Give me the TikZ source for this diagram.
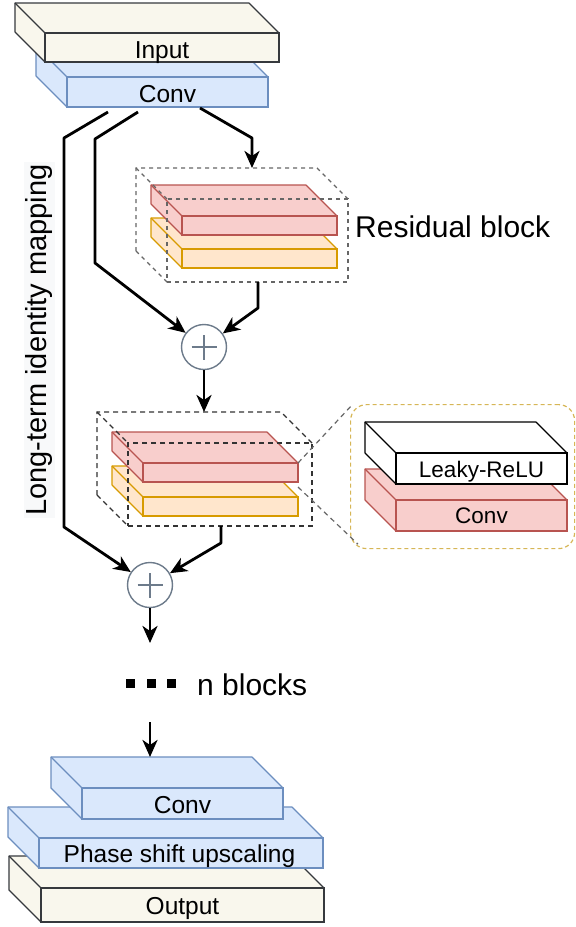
\documentclass[tikz,border=0pt]{standalone}
\usepackage{fontspec}
\setmainfont{Liberation Sans}
\usetikzlibrary{arrows.meta,calc}

\definecolor{creamfill}{HTML}{F9F7ED}
\definecolor{creamdraw}{HTML}{36393D}
\definecolor{bluefill}{HTML}{DAE8FC}
\definecolor{bluedraw}{HTML}{6C8EBF}
\definecolor{redfill}{HTML}{F8CECC}
\definecolor{reddraw}{HTML}{B85450}
\definecolor{orangefill}{HTML}{FFE6CC}
\definecolor{orangedraw}{HTML}{D79B00}
\definecolor{golddraw}{HTML}{D6B656}
\definecolor{sumdraw}{HTML}{6D7B8B}
\definecolor{frameAdraw}{HTML}{666666}
\definecolor{frameBdraw}{HTML}{333333}
\definecolor{labelbg}{HTML}{F8F9FA}

\newcommand\fsz[1]{\fontsize{#1}{#1}\selectfont}

% 3D slab: style, name, front top-left x, y, width, height, depth
\newcommand\slab[7]{%
  \filldraw[#1, line join=round] (#3-#7,#4-#7) -- ++(#5,0) -- ++(#7,#7) -- ++(0,#6)
     -- ++(-#5,0) -- ++(-#7,-#7) -- cycle;
  \node[#1, draw, rectangle, minimum width=#5pt, minimum height=#6pt, inner sep=0pt,
        outer sep=0pt, anchor=north west] (#2) at (#3,#4) {};
  \draw[#1, line join=round] (#2.north west) -- ++(-#7,-#7);
}

% wire-frame box: style, name, front top-left x, y, width, height, depth
\newcommand\wirebox[7]{%
  \node[#1, rectangle, minimum width=#5pt, minimum height=#6pt, inner sep=0pt,
        outer sep=0pt, anchor=north west] (#2) at (#3,#4) {};
  \draw[#1] ($(#2.south west)+(-#7,-#7)$) -- ($(#2.north west)+(-#7,-#7)$)
     -- ($(#2.north east)+(-#7,-#7)$) -- (#2.north east);
  \draw[#1] ($(#2.north west)+(-#7,-#7)$) -- (#2.north west);
  \draw[#1] ($(#2.south west)+(-#7,-#7)$) -- (#2.south west);
}

\begin{document}
\begin{tikzpicture}[x=1pt,y=-1pt,
  slabcream/.style={fill=creamfill, draw=creamdraw, line width=1.2pt},
  slabblue/.style={fill=bluefill, draw=bluedraw, line width=1.2pt},
  slabred/.style={fill=redfill, draw=reddraw, line width=1.2pt},
  slaborange/.style={fill=orangefill, draw=orangedraw, line width=1.2pt},
  slabwhite/.style={fill=white, draw=black, line width=1.2pt},
  frameA/.style={draw=frameAdraw, line width=1.4pt, dash pattern=on 4pt off 4pt},
  frameB/.style={draw=frameBdraw, line width=1.4pt, dash pattern=on 5pt off 4pt},
  zoomline/.style={draw=frameAdraw, line width=1.2pt, dash pattern=on 5pt off 4pt},
  lbl/.style={font=\fsz{24.5}, inner sep=0pt, anchor=base},
  lblsmall/.style={font=\fsz{22.5}, inner sep=0pt, anchor=base},
  bigtxt/.style={font=\fsz{30}, inner sep=0pt, anchor=base west},
  conn/.style={line width=2.8pt, line join=round,
    -{Stealth[length=17pt,width=15pt,inset=5pt]}},
  sumnode/.style={circle, draw=sumdraw, line width=1.4pt, fill=white,
    minimum size=45pt, inner sep=0pt,
    path picture={\draw[sumdraw, line width=1.4pt]
      ([xshift=-12.5pt]path picture bounding box.center) -- ([xshift=12.5pt]path picture bounding box.center)
      ([yshift=-12.5pt]path picture bounding box.center) -- ([yshift=12.5pt]path picture bounding box.center);}},
  dot/.style={fill=black, minimum size=9pt, inner sep=0pt}
]
\useasboundingbox (0,0) rectangle (576,927);

% input and first convolution
\slab{slabblue}{conv1}{67}{77}{201}{30}{31}
\slab{slabcream}{input}{45}{33}{234}{29}{30}
\node[lbl] (inputtxt) at ($(input.south)+(0,-4)$) {Input};
\node[lbl] (conv1txt) at ($(conv1.south)+(0,-5)$) {Conv};

% long skip label
\node[rotate=90, fill=labelbg, font=\fsz{29}, inner sep=2pt] (ltm) at (39.5,340)
  {Long-term identity mapping};

% first residual block
\slab{slaborange}{orange1}{182}{249}{155}{19}{31}
\slab{slabred}{red1}{182}{216}{155}{19}{31}
\wirebox{frameA}{frame1}{167}{199}{181}{83}{31}
\node[bigtxt] (rbtxt) at (355,237) {Residual block};

% second residual block
\slab{slaborange}{orange2}{143}{497}{155}{19}{31}
\slab{slabred}{red2}{143}{463}{155}{19}{31}
\wirebox{frameB}{frame2}{128}{443}{184}{83}{31}

% detail of a residual block
\node[draw=golddraw, line width=1.2pt, dash pattern=on 4pt off 3pt, rounded corners=16pt,
      minimum width=224pt, minimum height=144pt, inner sep=0pt, anchor=north west]
      (zoombox) at (350,404) {};
\slab{slabred}{convz}{396}{500}{171}{31}{31}
\slab{slabwhite}{leaky}{396}{453}{171}{31}{31}
\node[lblsmall] (leakytxt) at ($(leaky.south)+(0,-7)$) {Leaky-ReLU};
\node[lblsmall] (convztxt) at ($(convz.south)+(0,-8)$) {Conv};
\coordinate (zl1s) at (red2.north east);
\coordinate (zl2s) at ($(red2.south east)+(0,5)$);
\coordinate (zl1e) at ($(zoombox.north west)+(2,1)$);
\coordinate (zl2e) at ($(zoombox.south west)+(8,-5)$);
\draw[zoomline] (zl1s) -- (zl1e);
\draw[zoomline] (zl2s) -- (zl2e);

% additions
\node[sumnode] (sum1) at (204,347) {};
\node[sumnode] (sum2) at (150,585) {};

% repeated blocks
\node[dot] (dot1) at (130,683.5) {};
\node[dot] (dot2) at (151,683.5) {};
\node[dot] (dot3) at (171.5,683.5) {};
\node[bigtxt] (nbtxt) at (197,695) {n blocks};
\coordinate (nbtop) at (150,643);
\coordinate (nbbot) at (150,722);

% reconstruction and output
\slab{slabcream}{output}{41}{888}{283}{34}{32}
\slab{slabblue}{phase}{39}{838}{284}{30}{31}
\slab{slabblue}{conv2}{82}{788}{201}{31}{31}
\node[lbl] (conv2txt) at ($(conv2.south)+(0,-6)$) {Conv};
\node[lbl] (phasetxt) at ($(phase.south)+(-1.5,-6)$) {Phase shift upscaling};
\node[lbl] (outputtxt) at ($(output.south)+(0,-8)$) {Output};

% connectors
\coordinate (f1in) at ($(frame1.north west)+(85,-31)$);
\coordinate (f2in) at ($(frame2.north west)+(76,-31)$);
\coordinate (c2in) at ($(conv2.north west)+(68,-31)$);
\draw[conn] ($(conv1.south west)+(41,5)$) -- (64,138) -- (64,527) -- (sum2);
\draw[conn] ($(conv1.south west)+(71,5)$) -- (95,139) -- (95,263) -- (sum1);
\draw[conn] ($(conv1.south west)+(133,1)$) -- (252,138) -- (f1in);
\draw[conn] ($(frame1.south west)+(91,0)$) -- (258,308) -- (sum1);
\draw[conn] (sum1) -- (f2in);
\draw[conn] ($(frame2.south west)+(93,0)$) -- (221,543) -- (sum2);
\draw[conn] (sum2) -- (nbtop);
\draw[conn] (nbbot) -- (c2in);

\end{tikzpicture}
\end{document}
